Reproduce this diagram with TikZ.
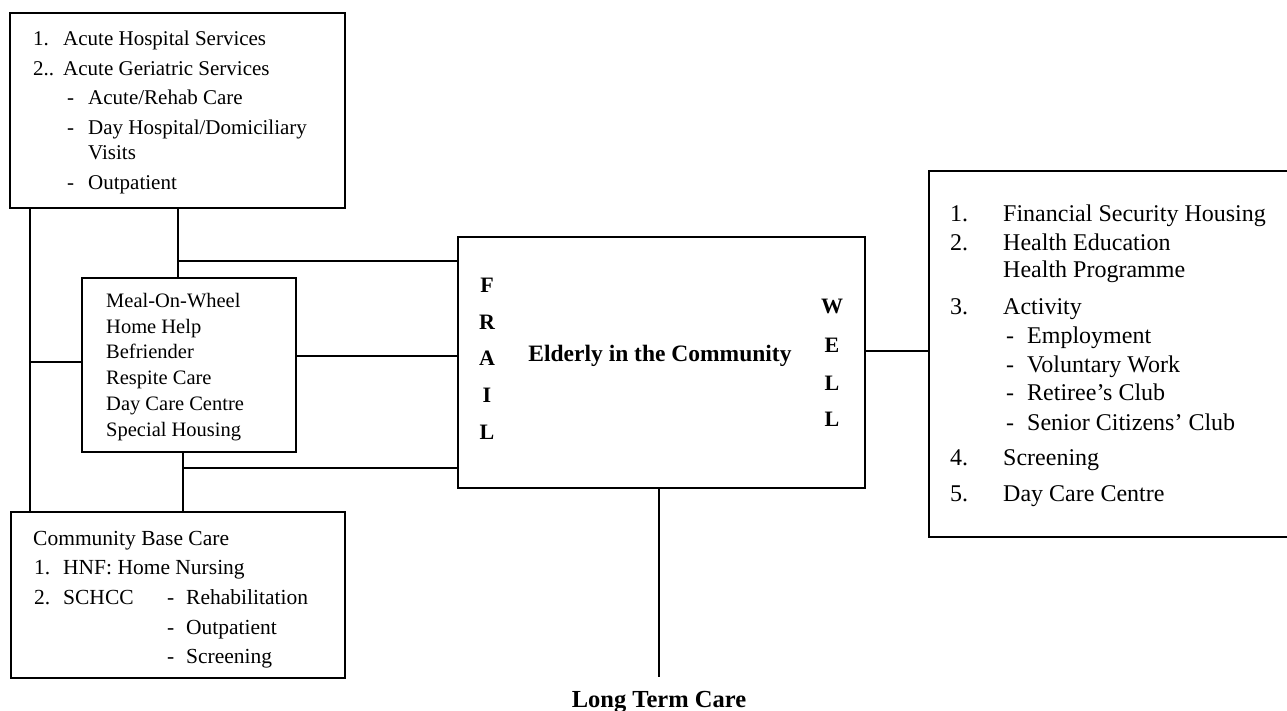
\documentclass[tikz,border=0pt]{standalone}
\usepackage{fontspec}
\setmainfont{Liberation Serif}
\begin{document}
\begin{tikzpicture}[x=1pt,y=-1pt,
  box/.style={draw,line width=1.4pt,inner sep=0pt},
  conn/.style={line width=1.3pt},
  ta/.style={inner sep=0pt,anchor=base west,font=\fontsize{21}{25}\selectfont},
  tb/.style={inner sep=0pt,anchor=base west,font=\fontsize{20.5}{24}\selectfont},
  tc/.style={inner sep=0pt,anchor=base west,font=\fontsize{21.5}{25}\selectfont},
  te/.style={inner sep=0pt,anchor=base west,font=\fontsize{24}{28}\selectfont},
  tbold/.style={inner sep=0pt,anchor=base,font=\fontsize{23.5}{28}\selectfont\bfseries},
  tlet/.style={inner sep=0pt,anchor=base,font=\fontsize{22}{26}\selectfont\bfseries}]
\useasboundingbox (0,0) rectangle (1287,710);
\fill[white] (0,0) rectangle (1287,710);

% boxes
\node[box,minimum width=335pt,minimum height=195pt] (A) at (177.5,110.5) {};
\node[box,minimum width=214pt,minimum height=174pt] (B) at (189,365) {};
\node[box,minimum width=334pt,minimum height=166pt] (C) at (178,595) {};
\node[box,minimum width=407pt,minimum height=251pt] (D) at (661.5,362.5) {};
\node[box,minimum width=370pt,minimum height=366pt] (E) at (1114,354) {};

% helper coordinates
\coordinate (trunkL) at (30,0);
\coordinate (midA) at (178,0);
\coordinate (midC) at (183,0);
\coordinate (h1) at (0,261);
\coordinate (h2) at (0,356);
\coordinate (h3) at (0,468);
\coordinate (h4) at (0,351);
\coordinate (hB) at (0,362);
\coordinate (ltcEnd) at (659,677);

% connectors
\draw[conn] (A.south -| trunkL) -- (C.north -| trunkL);
\draw[conn] (trunkL |- hB) -- (B.west |- hB);
\draw[conn] (A.south -| midA) -- (B.north -| midA);
\draw[conn] (midA |- h1) -- (D.west |- h1);
\draw[conn] (B.east |- h2) -- (D.west |- h2);
\draw[conn] (B.south -| midC) -- (C.north -| midC);
\draw[conn] (midC |- h3) -- (D.west |- h3);
\draw[conn] (D.east |- h4) -- (E.west |- h4);
\draw[line width=1.1pt] (D.south -| ltcEnd) -- (ltcEnd);

% Box A text
\node[ta] (a1n) at (33,45) {1.};
\node[ta] (a1) at (63,45) {Acute Hospital Services};
\node[ta] (a2n) at (33,75) {2..};
\node[ta] (a2) at (63,75) {Acute Geriatric Services};
\node[ta] (a3d) at (67,104) {-};
\node[ta] (a3) at (88,104) {Acute/Rehab Care};
\node[ta] (a4d) at (67,134) {-};
\node[ta] (a4) at (88,134) {Day Hospital/Domiciliary};
\node[ta] (a5) at (88,159) {Visits};
\node[ta] (a6d) at (67,189) {-};
\node[ta] (a6) at (88,189) {Outpatient};

% Box B text
\node[tb] (b1) at (106,307) {Meal-On-Wheel};
\node[tb] (b2) at (106,333) {Home Help};
\node[tb] (b3) at (106,358) {Befriender};
\node[tb] (b4) at (106,384) {Respite Care};
\node[tb] (b5) at (106,410) {Day Care Centre};
\node[tb] (b6) at (106,436) {Special Housing};

% Box C text
\node[tc] (c1) at (33,545) {Community Base Care};
\node[tc] (c2n) at (34,574) {1.};
\node[tc] (c2) at (63,574) {HNF: Home Nursing};
\node[tc] (c3n) at (34,604) {2.};
\node[tc] (c3) at (63,604) {SCHCC};
\node[tc] (c3d) at (167,604) {-};
\node[tc] (c3t) at (186,604) {Rehabilitation};
\node[tc] (c4d) at (167,634) {-};
\node[tc] (c4t) at (186,634) {Outpatient};
\node[tc] (c5d) at (167,663) {-};
\node[tc] (c5t) at (186,663) {Screening};

% Box D text
\node[tbold] (title) at (660,361) {Elderly in the Community};
\node[tlet] (f1) at (487,292) {F};
\node[tlet] (f2) at (487,329) {R};
\node[tlet] (f3) at (487,365) {A};
\node[tlet] (f4) at (487,402) {I};
\node[tlet] (f5) at (487,439) {L};
\node[tlet] (w1) at (832,313) {W};
\node[tlet] (w2) at (832,352) {E};
\node[tlet] (w3) at (832,390) {L};
\node[tlet] (w4) at (832,426) {L};

% Long term care
\node[tbold,font=\fontsize{24.5}{28}\selectfont\bfseries] (ltc) at (659,707) {Long Term Care};

% Box E text
\node[te] (e1n) at (950,221) {1.};
\node[te] (e1) at (1003,221) {Financial Security Housing};
\node[te] (e2n) at (950,250) {2.};
\node[te] (e2) at (1003,250) {Health Education};
\node[te] (e2b) at (1003,277) {Health Programme};
\node[te] (e3n) at (950,314) {3.};
\node[te] (e3) at (1003,314) {Activity};
\node[te] (e3ad) at (1006,343) {-};
\node[te] (e3a) at (1027,343) {Employment};
\node[te] (e3bd) at (1006,372) {-};
\node[te] (e3b) at (1027,372) {Voluntary Work};
\node[te] (e3cd) at (1006,400) {-};
\node[te] (e3c) at (1027,400) {Retiree's Club};
\node[te] (e3dd) at (1006,430) {-};
\node[te] (e3d) at (1027,430) {Senior Citizens' Club};
\node[te] (e4n) at (950,465) {4.};
\node[te] (e4) at (1003,465) {Screening};
\node[te] (e5n) at (950,501) {5.};
\node[te] (e5) at (1003,501) {Day Care Centre};
\end{tikzpicture}
\end{document}
